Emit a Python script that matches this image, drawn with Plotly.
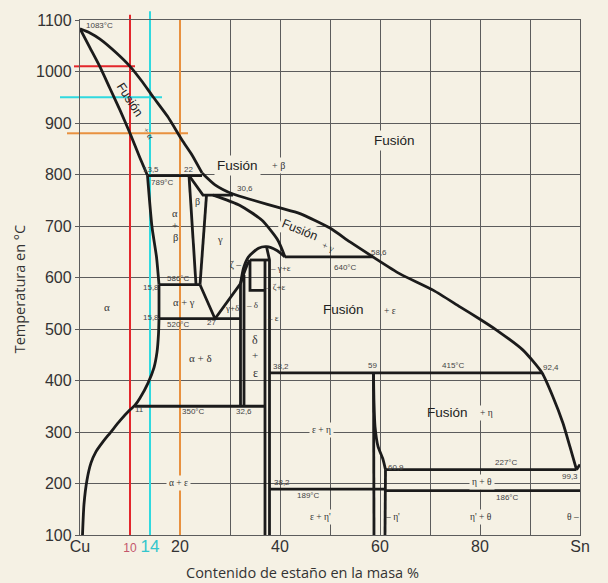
import plotly.graph_objects as go

BG = '#F5F1E4'
INK = '#1b1b1b'
GRID = '#5c5c5c'
TXT = '#333333'
NUM = '#444444'
RED = '#E3262B'
CYAN = '#2FD9DF'
ORANGE = '#E8913F'
SANS = 'Liberation Sans, Arial, sans-serif'
SERIF = 'Liberation Serif, Times New Roman, serif'
TITLE = 'Open Sans, Noto Sans, sans-serif'

# ---------------- phase boundaries (wt % Sn, T in °C) ----------------
liq_a_sn = [0, 2, 4, 7.3, 10, 12.3, 14.6, 17.5, 20.4, 22.4, 24.4]
liq_a_t = [1083, 1075, 1063, 1036, 1010, 982, 951, 913, 867, 838, 803]
liq_b_sn = [24.4, 27, 30.6, 35, 40, 44, 50, 54, 58.6, 64, 70.7, 76, 80, 83.3, 88.6, 92.4, 94.6, 96.6, 98, 99.3]
liq_b_t = [803, 780, 762, 749, 735, 724, 696, 669, 640, 607, 575, 543, 519, 498, 459, 415, 368, 317, 271, 227]
liq_c_sn = [99.3, 100]
liq_c_t = [227, 237]
sol_alpha_sn = [0, 2, 4, 6, 8, 10, 12, 13.5]
sol_alpha_t = [1083, 1046, 1009, 967, 925, 880, 832, 798]
solv_hi_sn = [13.5, 14.4, 15.3, 15.8]
solv_hi_t = [798, 698, 640, 586]
solv_mid_sn = [15.8, 15.8]
solv_mid_t = [586, 520]
solv_lo_sn = [15.8, 15.7, 15.4, 14.8, 13.6, 12, 11, 10, 8, 6, 4.5, 3.2, 2.2, 1.4, 0.8, 0.5]
solv_lo_t = [520, 490, 455, 425, 395, 366, 352, 343, 322, 298, 280, 262, 240, 207, 160, 100]
peri798_sn = [13.5, 24.4]
peri798_t = [798, 798]
beta_l_sn = [21.8, 23.2]
beta_l_t = [798, 586]
beta_top_sn = [21.8, 24.6, 30.6]
beta_top_t = [798, 760, 760]
beta_r_sn = [25.3, 24]
beta_r_t = [760, 586]
eut586_sn = [15.8, 24]
eut586_t = [586, 586]
gamma_v_sn = [24, 27, 32.1]
gamma_v_t = [586, 520, 588]
eut520_sn = [15.8, 32.2]
eut520_t = [520, 520]
gamma_sol_sn = [26.6, 32, 36.4, 39.6, 41]
gamma_sol_t = [760, 740, 711, 672, 640]
dome_out_sn = [32.1, 32.7, 33.7, 35.7, 37.3, 39.3, 41]
dome_out_t = [588, 618, 640, 657, 660, 653, 640]
dome_in_sn = [32.1, 32.9, 33.5, 34]
dome_in_t = [588, 611, 626, 634]
zeta_top_sn = [34, 37.9]
zeta_top_t = [634, 634]
zeta_box_sn = [34, 34, 37]
zeta_box_t = [634, 575, 575]
delta_l_sn = [32.1, 32.1]
delta_l_t = [588, 350]
delta_r_sn = [32.8, 32.8]
delta_r_t = [605, 350]
eps_a_sn = [37, 37]
eps_a_t = [634, 100]
eps_b_sn = [37.3, 37.9, 37.9]
eps_b_t = [660, 634, 100]
per640_sn = [41, 58.6]
per640_t = [640, 640]
per415_sn = [37.9, 92.4]
per415_t = [415, 415]
eut350_sn = [11, 37]
eut350_t = [350, 350]
eta_l_sn = [58.7, 58.8]
eta_l_t = [415, 100]
eta_r_sn = [58.7, 58.8, 59, 59.6, 60.6, 61.1]
eta_r_t = [415, 357, 311, 272, 247, 227]
eta_r2_sn = [61.1, 61.1, 61]
eta_r2_t = [227, 186, 100]
l227_sn = [61.1, 99.3]
l227_t = [227, 227]
l189_sn = [37.9, 61.1]
l189_t = [189, 189]
l186_sn = [61.1, 100]
l186_t = [186, 186]

segments = [
    (liq_a_sn, liq_a_t, True), (liq_b_sn, liq_b_t, True), (liq_c_sn, liq_c_t, False),
    (sol_alpha_sn, sol_alpha_t, True), (solv_hi_sn, solv_hi_t, True),
    (solv_mid_sn, solv_mid_t, False), (solv_lo_sn, solv_lo_t, True),
    (peri798_sn, peri798_t, False), (beta_l_sn, beta_l_t, False),
    (beta_top_sn, beta_top_t, False), (beta_r_sn, beta_r_t, False),
    (eut586_sn, eut586_t, False), (gamma_v_sn, gamma_v_t, False),
    (eut520_sn, eut520_t, False), (gamma_sol_sn, gamma_sol_t, True),
    (dome_out_sn, dome_out_t, True), (dome_in_sn, dome_in_t, True),
    (zeta_top_sn, zeta_top_t, False), (zeta_box_sn, zeta_box_t, False),
    (delta_l_sn, delta_l_t, False), (delta_r_sn, delta_r_t, False),
    (eps_a_sn, eps_a_t, False), (eps_b_sn, eps_b_t, False),
    (per640_sn, per640_t, False), (per415_sn, per415_t, False),
    (eut350_sn, eut350_t, False), (eta_l_sn, eta_l_t, False),
    (eta_r_sn, eta_r_t, True), (eta_r2_sn, eta_r2_t, False),
    (l227_sn, l227_t, False), (l189_sn, l189_t, False), (l186_sn, l186_t, False),
]

# ---------------- reference alloys ----------------
ref_sn = [10, 14, 20]
ref_temp = [1010, 950, 880]
ref_colors = [RED, CYAN, ORANGE]
ref_text_colors = ['#D8474B', '#45D3DA', '#E6A266']
ref_labels = ['ca. 1010°C', 'ca. 950°C', 'ca. 880°C']
ref_label_t = [1026, 970, 857]
ref_top = [1110, 1117, 1100]
ref_hline_from = [-1.2, -4, -2.6]
ref_hline_to = [11, 16.4, 21.6]

# ---------------- axes ----------------
X_RANGE = [0, 100]
Y_RANGE = [100, 1100]
x_tick_vals = [0, 10, 14, 20, 40, 60, 80, 100]
x_tick_text = ['Cu',
               '<span style="color:#C4566B;font-size:12px">10</span>',
               '<span style="color:#33C6CC;font-size:17px">14</span>',
               '20', '40', '60', '80', 'Sn']


def px(v):
    return (v - X_RANGE[0]) / (X_RANGE[1] - X_RANGE[0])


def py(v):
    return (v - Y_RANGE[0]) / (Y_RANGE[1] - Y_RANGE[0])


fig = go.Figure()

# coloured reference lines inside the plot (drawn under the black boundaries)
for xv, tv, col, x1 in zip(ref_sn, ref_temp, ref_colors, ref_hline_to):
    fig.add_trace(go.Scatter(x=[xv, xv], y=Y_RANGE, mode='lines', hoverinfo='skip',
                             showlegend=False, line=dict(color=col, width=2)))
    fig.add_trace(go.Scatter(x=[X_RANGE[0], x1], y=[tv, tv], mode='lines', hoverinfo='skip',
                             showlegend=False, line=dict(color=col, width=2)))

for sn, t, smooth in segments:
    fig.add_trace(go.Scatter(
        x=sn, y=t, mode='lines', hoverinfo='skip', showlegend=False,
        line=dict(color=INK, width=2.8, shape='spline' if smooth else 'linear',
                  smoothing=0.6 if smooth else None)))

# dummy trace so that the label axis is drawn
fig.add_trace(go.Scatter(x=[X_RANGE[0]], y=[Y_RANGE[0]], xaxis='x2', mode='markers',
                         marker=dict(opacity=0), hoverinfo='skip', showlegend=False))

# parts of the coloured lines that stick out of the plot area
shapes = []
for xv, tv, col, top, x0 in zip(ref_sn, ref_temp, ref_colors, ref_top, ref_hline_from):
    if top > Y_RANGE[1]:
        shapes.append(dict(type='line', xref='paper', yref='paper', layer='below',
                           x0=px(xv), x1=px(xv), y0=py(Y_RANGE[1]), y1=py(top),
                           line=dict(color=col, width=2)))
    shapes.append(dict(type='line', xref='paper', yref='paper', layer='below',
                       x0=px(x0), x1=px(X_RANGE[0]), y0=py(tv), y1=py(tv),
                       line=dict(color=col, width=2)))

ann = []
for lab, tv, col in zip(ref_labels, ref_label_t, ref_text_colors):
    ann.append(dict(text=lab, x=-13.4, y=tv, xref='x', yref='y', xanchor='left',
                    yanchor='middle', showarrow=False,
                    font=dict(family=SANS, size=11.5, color=col)))

# (text, Sn %, T, size, family, background, angle)
labels = [
    ('1083°C', 3.9, 1090, 8, 'n', False, 0),
    ('Fusión', 10.0, 945, 12.5, 's', False, 57),
    ('+ α', 13.6, 880, 9, 'g', False, 57),
    ('Fusión', 62.8, 867, 13.5, 's', True, 0),
    ('13,5', 14.1, 809, 8, 'n', False, 0),
    ('22', 21.6, 809, 8, 'n', False, 0),
    ('789°C', 16.5, 785, 8, 'n', False, 0),
    ('Fusión', 31.5, 818, 13.5, 's', True, 0),
    ('+ β', 39.7, 817, 10, 'g', True, 0),
    ('30,6', 32.9, 772, 8, 'n', False, 0),
    ('β', 23.4, 747, 10, 'g', False, 0),
    ('α', 19.0, 725, 10.5, 'g', False, 0),
    ('+', 19.0, 701, 10.5, 'g', False, 0),
    ('β', 19.0, 677, 10.5, 'g', False, 0),
    ('γ', 28.0, 673, 10.5, 'g', False, 0),
    ('Fusión', 44.0, 692, 12.5, 's', True, 22),
    ('+ γ', 49.6, 659, 9.5, 'g', False, 22),
    ('58,6', 59.7, 648, 8, 'n', False, 0),
    ('640°C', 53.0, 620, 8, 'n', False, 0),
    ('ζ –', 31.0, 624, 9.5, 'g', False, 0),
    ('– γ+ε', 40.0, 618, 9, 'g', False, 0),
    ('– ζ+ε', 39.1, 581, 9, 'g', False, 0),
    ('586°C', 19.7, 599, 8, 'n', False, 0),
    ('15,8', 14.1, 581, 8, 'n', False, 0),
    ('α + γ', 20.7, 552, 10.5, 'g', False, 0),
    ('γ+δ', 30.3, 541, 9, 'g', False, 0),
    ('– δ', 34.4, 547, 9, 'g', False, 0),
    ('– ε', 38.5, 521, 9, 'g', False, 0),
    ('Fusión', 52.6, 537, 13.5, 's', False, 0),
    ('+ ε', 62.0, 535, 9.5, 'g', True, 0),
    ('15,8', 14.1, 523, 8, 'n', False, 0),
    ('520°C', 19.7, 508, 8, 'n', False, 0),
    ('27', 26.2, 512, 8, 'n', False, 0),
    ('α', 5.4, 543, 11, 'g', False, 0),
    ('α + δ', 24.1, 444, 11, 'g', False, 0),
    ('δ', 35.0, 479, 12, 'g', False, 0),
    ('+', 35.0, 450, 11, 'g', False, 0),
    ('ε', 35.0, 415, 12, 'g', False, 0),
    ('38,2', 40.1, 428, 8, 'n', False, 0),
    ('59', 58.4, 430, 8, 'n', False, 0),
    ('415°C', 74.7, 430, 8, 'n', False, 0),
    ('92,4', 94.1, 426, 8, 'n', False, 0),
    ('Fusión', 73.5, 337, 13.5, 's', False, 0),
    ('+ η', 81.2, 337, 9.5, 'g', True, 0),
    ('11', 11.8, 343, 8, 'n', False, 0),
    ('350°C', 22.7, 339, 8, 'n', False, 0),
    ('32,6', 32.7, 339, 8, 'n', False, 0),
    ('ε + η', 48.3, 304, 9.5, 'g', True, 0),
    ('60,9', 63.1, 232, 8, 'n', False, 0),
    ('227°C', 85.3, 240, 8, 'n', False, 0),
    ('232°C', 103.3, 246, 8, 'n', False, 0),
    ('99,3', 98.0, 213, 8, 'n', False, 0),
    ('38,2', 40.3, 201, 8, 'n', False, 0),
    ('189°C', 45.7, 176, 8, 'n', False, 0),
    ('186°C', 85.5, 172, 8, 'n', False, 0),
    ('η + θ', 80.3, 203, 9.5, 'g', True, 0),
    ('α + ε', 19.7, 201, 9.5, 'g', True, 0),
    ('ε + η\'', 48.1, 135, 9.5, 'g', True, 0),
    ('– η\'', 62.5, 135, 9.5, 'g', False, 0),
    ('η\' + θ', 80.1, 135, 9.5, 'g', True, 0),
    ('θ –', 98.5, 135, 9.5, 'g', False, 0),
]
fam = {'n': SANS, 's': SANS, 'g': SERIF}
col = {'n': NUM, 's': '#222222', 'g': TXT}
for text, xs, ts, size, f, bg, ang in labels:
    d = dict(text=text, x=xs, y=ts, xref='x', yref='y', showarrow=False,
             xanchor='center', yanchor='middle', textangle=ang,
             font=dict(family=fam[f], size=size, color=col[f]))
    if bg:
        d.update(bgcolor=BG, borderpad=2)
    ann.append(d)

# axis titles
ann.append(dict(text='Temperatura en °C', xref='paper', yref='paper', x=-0.121, y=0.478,
                textangle=-90, showarrow=False, xanchor='center', yanchor='middle',
                font=dict(family=TITLE, size=14.5, color=TXT)))
ann.append(dict(text='Contenido de estaño en la masa %', xref='paper', yref='paper',
                x=0.444, y=-0.072, showarrow=False, xanchor='center', yanchor='middle',
                font=dict(family=TITLE, size=14.5, color=TXT)))

fig.update_layout(
    width=608, height=583,
    margin=dict(l=80, r=28, t=20, b=48),
    paper_bgcolor=BG, plot_bgcolor='rgba(0,0,0,0)',
    showlegend=False,
    xaxis=dict(range=X_RANGE, dtick=10, tick0=0, showgrid=True, gridcolor=GRID,
               gridwidth=1.3, showticklabels=False, zeroline=False, showline=True,
               linecolor=GRID, linewidth=1.3, mirror=True, ticks=''),
    xaxis2=dict(range=X_RANGE, overlaying='x', anchor='y', side='bottom',
                tickmode='array', tickvals=x_tick_vals, ticktext=x_tick_text,
                showgrid=False, zeroline=False, ticks='', showline=False,
                tickfont=dict(family=SANS, size=16, color=TXT)),
    yaxis=dict(range=Y_RANGE, dtick=100, tick0=0, showgrid=True, gridcolor=GRID,
               gridwidth=1.3, zeroline=False, showline=True, linecolor=GRID,
               linewidth=1.3, mirror=True, ticks='outside', ticklen=4,
               tickcolor=GRID, tickwidth=1.3,
               tickfont=dict(family=SANS, size=16, color=TXT)),
    shapes=shapes,
    annotations=ann,
)

fig.write_html('out.html', config={'displayModeBar': False},
               post_script="document.body.style.margin='0';"
                           "document.body.style.background='" + BG + "';")
